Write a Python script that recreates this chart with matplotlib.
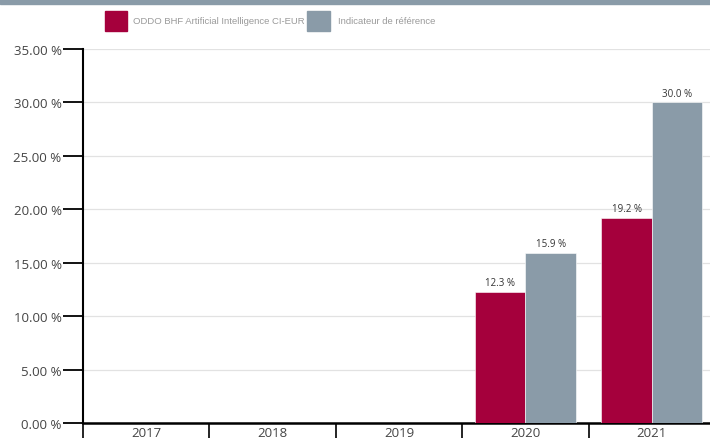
import numpy as np
import matplotlib.pyplot as plt
from matplotlib.patches import Rectangle

years = ["2017", "2018", "2019", "2020", "2021"]
fund = [np.nan, np.nan, np.nan, 12.3, 19.2]
benchmark = [np.nan, np.nan, np.nan, 15.9, 30.0]
fund_name = "ODDO BHF Artificial Intelligence CI-EUR"
bench_name = "Indicateur de référence"
y_ticks = [0, 5, 10, 15, 20, 25, 30, 35]

RED = "#a5003c"
GREY = "#8a9ba8"

plt.rcParams['font.family'] = ['Open Sans', 'DejaVu Sans']
LEGEND_FONT = ['Liberation Sans', 'DejaVu Sans']

fig = plt.figure(figsize=(7.1, 4.39), dpi=100)
# top band
fig.patches.append(Rectangle((0, 1 - 5 / 439), 1, 5 / 439, transform=fig.transFigure,
                             color=GREY, zorder=0))

ax = fig.add_axes([83 / 710, 15 / 439, 632 / 710, 374 / 439])
x = np.arange(len(years))
w = 0.4
ax.bar(x - w / 2, fund, w, color=RED, edgecolor="white", linewidth=0.4, zorder=3)
ax.bar(x + w / 2, benchmark, w, color=GREY, edgecolor="white", linewidth=0.4, zorder=3)

for xs, vals in ((x - w / 2, fund), (x + w / 2, benchmark)):
    for xi, v in zip(xs, vals):
        if not np.isnan(v):
            ax.text(xi, v + 0.35, f"{v:.1f} %", ha="center", va="bottom",
                    fontsize=7, color="#333333")

ax.set_xlim(-0.5, len(years) - 0.5)
ax.set_ylim(0, 35)
ax.set_yticks(y_ticks)
ax.set_yticklabels([f"{t:.2f} %" for t in y_ticks], fontsize=9.5, color="#444444")
ax.set_xticks(x)
ax.set_xticklabels(years, fontsize=9.5, color="#444444")
ax.set_xticks(np.arange(len(years) + 1) - 0.5, minor=True)
ax.tick_params(axis="x", which="major", length=0, pad=2)
ax.tick_params(axis="x", which="minor", length=11, width=1.2, color="black")
ax.tick_params(axis="y", length=14.4, width=1.3, color="black", pad=1)
ax.grid(axis="y", color="#e2e2e2", linewidth=0.9, zorder=0)
for s in ("top", "right"):
    ax.spines[s].set_visible(False)
ax.spines["left"].set_linewidth(1.5)
ax.spines["bottom"].set_linewidth(1.8)

# legend
fig.patches.append(Rectangle((105 / 710, 1 - 32 / 439), 22 / 710, 20 / 439,
                             transform=fig.transFigure, color=RED))
fig.text(133 / 710, 1 - 21 / 439, fund_name, fontsize=6.8, color="#9a9a9a",
         va="center", family=LEGEND_FONT)
fig.patches.append(Rectangle((307 / 710, 1 - 32 / 439), 23 / 710, 20 / 439,
                             transform=fig.transFigure, color=GREY))
fig.text(338 / 710, 1 - 21 / 439, bench_name, fontsize=6.8, color="#9a9a9a",
         va="center", family=LEGEND_FONT)

fig.savefig("out.png", dpi=100)
